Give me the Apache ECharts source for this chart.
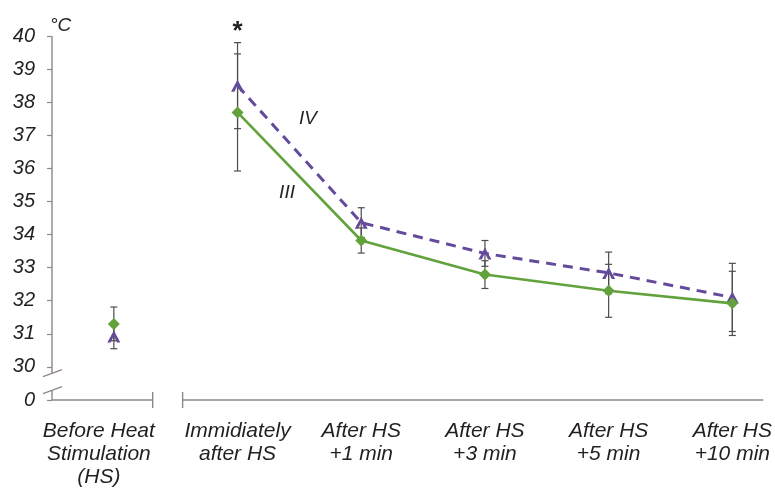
<!DOCTYPE html>
<html><head><meta charset="utf-8">
<script src="https://cdn.jsdelivr.net/npm/echarts@6/dist/echarts.min.js"></script>
<style>html,body{margin:0;padding:0;background:#fff}#c{width:775px;height:489px}</style>
</head><body><div id="c"></div>
<script>
// ---- data ----
const categories = ['Before Heat\nStimulation\n(HS)', 'Immidiately\nafter HS', 'After HS\n+1 min', 'After HS\n+3 min', 'After HS\n+5 min', 'After HS\n+10 min'];
const yTickValues = [29, 30, 31, 32, 33, 34, 35, 36, 37, 38, 39, 40];
const yTickLabels = ['0', '30', '31', '32', '33', '34', '35', '36', '37', '38', '39', '40'];
const seriesIII = [31.30, 37.69, 33.82, 32.79, 32.30, 31.92];
const errIII    = [0.51, 1.77, 0.38, 0.42, 0.80, 0.97];
const seriesIV  = [30.92, 38.50, 34.36, 33.43, 32.84, 32.10];
const errIV     = [0.37, 1.30, 0.45, 0.39, 0.63, 1.03];
const annotations = [
  { text: '*',   x: 1,    y: 40.12 },
  { text: 'IV',  x: 1.57, y: 37.51 },
  { text: 'III', x: 1.40, y: 35.27 }
];

// ---- styles ----
const GREEN = '#62a23c', PURPLE = '#634a9b', TXT = '#231f20', AX = '#8f8787', ERR = '#4d4d4d';
const FONT = '"Liberation Sans", Arial, sans-serif';
const chevron = 'path://M0,10 L5,0 L10,10 L7.4,10 L5,4.6 L2.6,10 Z';

const chart = echarts.init(document.getElementById('c'), null, { renderer: 'canvas' });

function errorSeries(vals, errs, z) {
  return {
    type: 'custom', z: z, silent: true, clip: false,
    data: vals.map((v, i) => [i, v - errs[i], v + errs[i]]),
    encode: { x: 0, y: [1, 2] },
    renderItem: function (p, api) {
      const x = api.value(0);
      const lo = api.coord([x, api.value(1)]);
      const hi = api.coord([x, api.value(2)]);
      const w = 3.5, st = { stroke: ERR, lineWidth: 1.2 };
      return { type: 'group', children: [
        { type: 'line', shape: { x1: lo[0], y1: lo[1], x2: hi[0], y2: hi[1] }, style: st },
        { type: 'line', shape: { x1: lo[0] - w, y1: lo[1], x2: lo[0] + w, y2: lo[1] }, style: st },
        { type: 'line', shape: { x1: hi[0] - w, y1: hi[1], x2: hi[0] + w, y2: hi[1] }, style: st }
      ]};
    }
  };
}

// axis lines with breaks (drawn through the axis scales)
const axisDeco = {
  type: 'custom', silent: true, clip: false, z: 1,
  data: [[0, 29]],
  renderItem: function (p, api) {
    const st = { stroke: AX, lineWidth: 1.4 };
    const yTop = api.coord([-0.5, 40]);
    const yBrk1 = api.coord([-0.5, 29.81]);
    const yBrk2 = api.coord([-0.5, 29.3]);
    const org = api.coord([-0.5, 29]);
    const seg1End = api.coord([0.314, 29]);
    const seg2Start = api.coord([0.556, 29]);
    const xEnd = api.coord([5.25, 29]);
    const ch = [
      { type: 'line', shape: { x1: yTop[0], y1: yTop[1], x2: yBrk1[0], y2: yBrk1[1] }, style: st },
      { type: 'line', shape: { x1: yBrk2[0], y1: yBrk2[1], x2: org[0], y2: org[1] }, style: st },
      { type: 'line', shape: { x1: yBrk1[0] - 9, y1: yBrk1[1] + 3.5, x2: yBrk1[0] + 10, y2: yBrk1[1] - 3.5 }, style: st },
      { type: 'line', shape: { x1: yBrk2[0] - 9, y1: yBrk2[1] + 3.5, x2: yBrk2[0] + 10, y2: yBrk2[1] - 3.5 }, style: st },
      { type: 'line', shape: { x1: org[0], y1: org[1], x2: seg1End[0], y2: seg1End[1] }, style: st },
      { type: 'line', shape: { x1: seg1End[0], y1: seg1End[1] - 8, x2: seg1End[0], y2: seg1End[1] + 8 }, style: st },
      { type: 'line', shape: { x1: seg2Start[0], y1: seg2Start[1], x2: xEnd[0], y2: xEnd[1] }, style: st },
      { type: 'line', shape: { x1: seg2Start[0], y1: seg2Start[1] - 8, x2: seg2Start[0], y2: seg2Start[1] + 8 }, style: st }
    ];
    return { type: 'group', children: ch };
  }
};

const annotSeries = {
  type: 'scatter', z: 10, silent: true, clip: false, symbolSize: 1,
  itemStyle: { color: 'rgba(0,0,0,0)', opacity: 1 },
  data: annotations.map(a => ({ value: [a.x, a.y], name: a.text,
    label: a.text === '*' ? { fontSize: 26, fontStyle: 'normal', fontWeight: 'bold' } : {} })),
  label: {
    show: true, position: 'inside', formatter: p => p.name,
    fontFamily: FONT, fontStyle: 'italic', color: TXT, fontSize: 19,
    textBorderWidth: 0, textBorderColor: 'transparent'
  }
};

const XL = { fontSize: 21, lineHeight: 23, fontStyle: 'italic', color: TXT, fontFamily: FONT };

const option = {
  animation: false,
  backgroundColor: '#fff',
  textStyle: { fontFamily: FONT },
  grid: { left: 52, right: 9, top: 36, bottom: 86, containLabel: false },
  xAxis: {
    type: 'value', min: -0.5, max: 5.25, interval: 0.5,
    splitLine: { show: false }, axisLine: { show: false, onZero: false }, axisTick: { show: false },
    axisLabel: {
      margin: 20, fontSize: 21, lineHeight: 23, fontStyle: 'italic', color: TXT, fontFamily: FONT,
      showMinLabel: true, showMaxLabel: true,
      formatter: v => {
        if (!(Number.isInteger(v) && v >= 0 && v < categories.length)) return '';
        if (v === 0) return categories[0].split('\n').map(s => '{s|' + s + '}').join('\n');
        return categories[v];
      },
      rich: { s: Object.assign({ padding: [0, 30, 0, 0] }, XL) }
    }
  },
  yAxis: {
    type: 'value', min: 29, max: 40, interval: 1,
    name: '°C', nameLocation: 'end', nameGap: 10,
    nameTextStyle: { fontSize: 19, fontStyle: 'italic', color: TXT, align: 'left', verticalAlign: 'middle', fontFamily: FONT, padding: [0, 0, 0, -2] },
    splitLine: { show: false }, axisLine: { show: false, onZero: false },
    axisTick: { show: true, inside: false, length: 5, lineStyle: { color: AX, width: 1.2 } },
    axisLabel: {
      margin: 17, fontSize: 20, fontStyle: 'italic', color: TXT, fontFamily: FONT,
      formatter: v => { const i = yTickValues.indexOf(v); return i >= 0 ? yTickLabels[i] : ''; }
    }
  },
  series: [
    axisDeco,
    errorSeries(seriesIII, errIII, 2),
    errorSeries(seriesIV, errIV, 2),
    {
      type: 'line', name: 'III', z: 4,
      data: seriesIII.slice(1).map((v, i) => [i + 1, v]),
      lineStyle: { color: GREEN, width: 2.6 },
      itemStyle: { color: GREEN },
      symbol: 'diamond', symbolSize: [12, 12], showAllSymbol: true
    },
    {
      type: 'line', name: 'IV', z: 3,
      data: seriesIV.slice(1).map((v, i) => [i + 1, v]),
      lineStyle: { color: PURPLE, width: 3, type: [10, 7] },
      itemStyle: { color: PURPLE },
      symbol: chevron, symbolSize: [13, 12], showAllSymbol: true
    },
    {
      type: 'scatter', z: 4, data: [[0, seriesIII[0]]],
      itemStyle: { color: GREEN, opacity: 1 }, symbol: 'diamond', symbolSize: [12, 12]
    },
    {
      type: 'scatter', z: 3, data: [[0, seriesIV[0]]],
      itemStyle: { color: PURPLE, opacity: 1 }, symbol: chevron, symbolSize: [13, 12]
    },
    annotSeries
  ]
};
chart.setOption(option);
</script>
</body></html>
